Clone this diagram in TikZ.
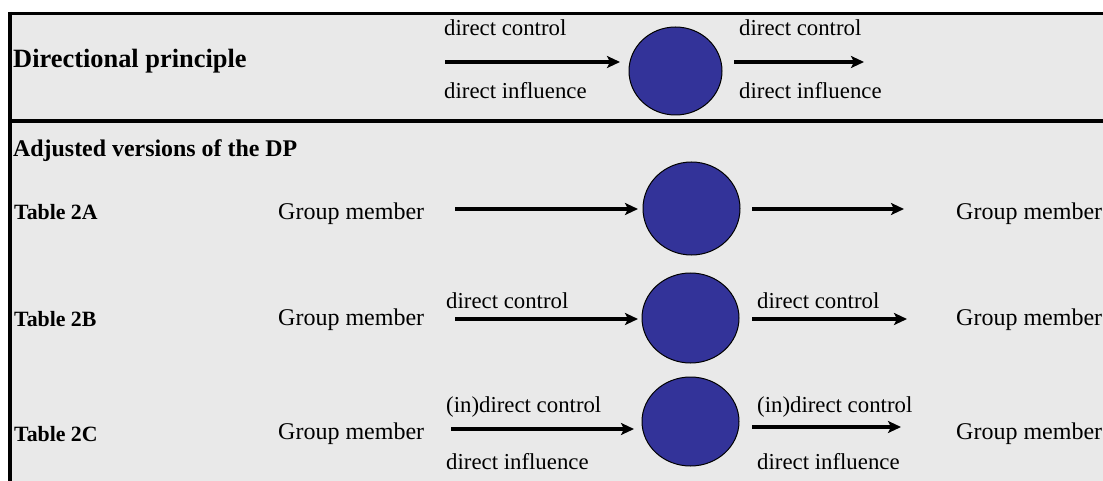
\documentclass[tikz,border=0pt]{standalone}
\usepackage{fontspec}
\setmainfont{Liberation Serif}
\usetikzlibrary{arrows.meta,shapes.geometric}
\definecolor{panelgray}{HTML}{E9E9E9}
\definecolor{agentblue}{HTML}{333399}
\tikzset{
  lbl/.style={anchor=base west, inner sep=0pt, font=\fontsize{22.8}{27}\selectfont},
  member/.style={anchor=base west, inner sep=0pt, font=\fontsize{24}{29}\selectfont},
  tbl/.style={anchor=base west, inner sep=0pt, font=\fontsize{21.8}{26}\selectfont\bfseries},
  agent/.style={ellipse, draw=black, line width=1pt, fill=agentblue, inner sep=0pt},
  flow/.style={line width=3.6pt, -{Stealth[length=13pt, width=12pt, inset=3pt]}},
  rule/.style={line width=3.5pt, black}
}
\begin{document}
\begin{tikzpicture}[x=1pt, y=-1pt]
\useasboundingbox (0,0) rectangle (1103,481);
% panel background and frame
\fill[panelgray] (8,12) rectangle (1103,481);
\draw[rule] (8,13.5) -- (1103,13.5);
\draw[rule] (8,121) -- (1103,121);
\draw[rule] (10,12) -- (10,481);

% ---- directional principle ----
\node[anchor=base west, inner sep=0pt, font=\fontsize{26.4}{31}\selectfont\bfseries] (dp) at (13,68) {Directional principle};
\node[agent, minimum width=93pt, minimum height=88pt] (c0) at (675.5,71) {};
\node[lbl] (c0a) at (444,36) {direct control};
\node[lbl] (c0b) at (444,99) {direct influence};
\node[lbl] (c0c) at (739,36) {direct control};
\node[lbl] (c0d) at (739,99) {direct influence};
\coordinate (a0s) at (445,62);
\coordinate (a0e) at (620,62);
\coordinate (b0s) at (734,62);
\coordinate (b0e) at (864,62);
\draw[flow] (a0s) -- (a0e);
\draw[flow] (b0s) -- (b0e);

% ---- adjusted versions ----
\node[anchor=base west, inner sep=0pt, font=\fontsize{23.9}{29}\selectfont\bfseries] (adj) at (13,157) {Adjusted versions of the DP};

% Table 2A
\node[tbl] (t2a) at (14,220) {Table 2A};
\node[member] (g2aL) at (278,219) {Group member};
\node[member] (g2aR) at (956,219) {Group member};
\node[agent, minimum width=97pt, minimum height=93pt] (c2a) at (691.5,208.5) {};
\coordinate (a2s) at (455,209);
\coordinate (a2e) at (638,209);
\coordinate (b2s) at (752,209);
\coordinate (b2e) at (904,209);
\draw[flow] (a2s) -- (a2e);
\draw[flow] (b2s) -- (b2e);

% Table 2B
\node[tbl] (t2b) at (14,326) {Table 2B};
\node[member] (g2bL) at (278,325) {Group member};
\node[member] (g2bR) at (956,325) {Group member};
\node[agent, minimum width=97pt, minimum height=90pt] (c2b) at (690.5,318) {};
\node[lbl] (l2b1) at (446,308) {direct control};
\node[lbl] (l2b2) at (757,308) {direct control};
\coordinate (a3s) at (455,319);
\coordinate (a3e) at (638,319);
\coordinate (b3s) at (752,319);
\coordinate (b3e) at (907,319);
\draw[flow] (a3s) -- (a3e);
\draw[flow] (b3s) -- (b3e);

% Table 2C
\node[tbl] (t2c) at (14,441) {Table 2C};
\node[member] (g2cL) at (278,439) {Group member};
\node[member] (g2cR) at (956,439) {Group member};
\node[agent, minimum width=97pt, minimum height=89pt] (c2c) at (690.5,421.5) {};
\node[lbl] (l2c1) at (446,412) {(in)direct control};
\node[lbl] (l2c2) at (757,412) {(in)direct control};
\node[lbl] (l2c3) at (446,469) {direct influence};
\node[lbl] (l2c4) at (757,469) {direct influence};
\coordinate (a4s) at (451,429);
\coordinate (a4e) at (634,429);
\coordinate (b4s) at (752,427);
\coordinate (b4e) at (901,427);
\draw[flow] (a4s) -- (a4e);
\draw[flow] (b4s) -- (b4e);
\end{tikzpicture}
\end{document}
